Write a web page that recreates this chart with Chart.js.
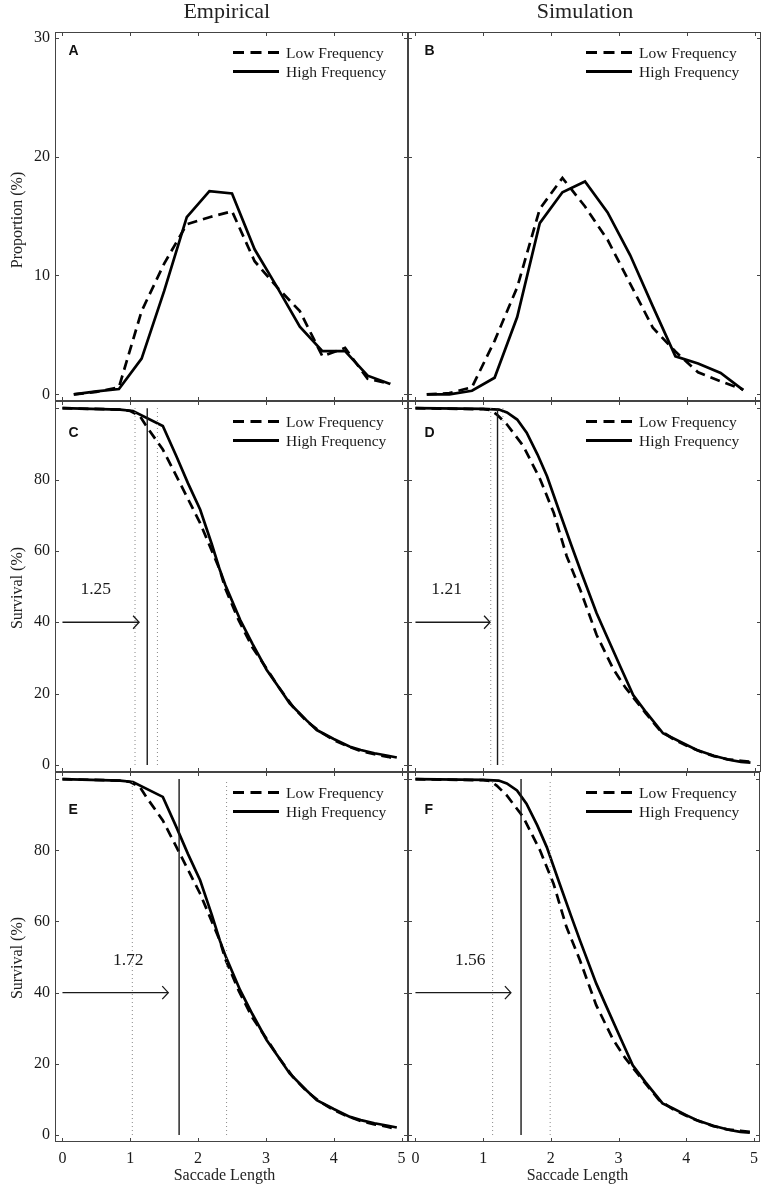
<!DOCTYPE html>
<html>
<head>
<meta charset="utf-8">
<script src="https://cdn.jsdelivr.net/npm/chart.js@4.4.1/dist/chart.umd.min.js"></script>
<style>
html,body{margin:0;padding:0;background:#fff;}
#wrap{position:relative;width:765px;height:1187px;overflow:hidden;background:#fff;}
#wrap canvas{position:absolute;left:0;top:0;}
.t{position:absolute;font-family:"Liberation Serif","Times New Roman",serif;color:#222;white-space:nowrap;line-height:1;}
</style>
</head>
<body>
<div id="wrap">
  <canvas id="pA" width="765" height="1187"></canvas>
  <canvas id="pB" width="765" height="1187"></canvas>
  <canvas id="pC" width="765" height="1187"></canvas>
  <canvas id="pD" width="765" height="1187"></canvas>
  <canvas id="pE" width="765" height="1187"></canvas>
  <canvas id="pF" width="765" height="1187"></canvas>
</div>
<script>
// ---------- tick labels ----------
const xTickValues = [0, 1, 2, 3, 4, 5];
const xTickLabels = ['0', '1', '2', '3', '4', '5'];
const propTickValues = [0, 10, 20, 30];
const propTickLabels = ['0', '10', '20', '30'];
const survTickValues = [0, 20, 40, 60, 80, 100];
const survTickLabels = ['0', '20', '40', '60', '80', ''];

// ---------- categories / text ----------
const columnTitles = ['Empirical', 'Simulation'];
const seriesNames = ['Low Frequency', 'High Frequency'];
const panelLetters = ['A', 'B', 'C', 'D', 'E', 'F'];
const xAxisTitle = 'Saccade Length';
const yAxisTitles = ['Proportion (%)', 'Survival (%)', 'Survival (%)'];

// ---------- proportion distributions (panels A, B) ----------
const propBins     = [0.167, 0.5, 0.833, 1.167, 1.5, 1.833, 2.167, 2.5, 2.833, 3.167, 3.5, 3.833, 4.167, 4.5, 4.833];
const empLowProp   = [0, 0.2, 0.6, 7.0, 11.0, 14.3, 14.9, 15.4, 11.2, 9.0, 7.0, 3.2, 3.9, 1.3, 0.9];
const empHighProp  = [0, 0.25, 0.45, 3.0, 8.7, 14.9, 17.1, 16.9, 12.2, 9.0, 5.7, 3.64, 3.64, 1.57, 0.87];
const simLowProp   = [0, 0.1, 0.6, 4.5, 9.0, 15.6, 18.2, 15.8, 13.0, 9.3, 5.6, 3.6, 1.85, 1.1, 0.4];
const simHighProp  = [0, 0, 0.3, 1.4, 6.5, 14.4, 17.0, 17.9, 15.3, 11.7, 7.4, 3.2, 2.6, 1.8, 0.36];

// ---------- survival curves (panels C-F) ----------
const empLowSurvX  = [0, 0.85, 1.0, 1.14, 1.25, 1.48, 1.73, 2.03, 2.32, 2.4, 2.6, 2.8, 3.0, 3.2, 3.4, 3.6, 3.8, 4.0, 4.2, 4.4, 4.6, 4.8, 4.93];
const empLowSurv   = [100, 99.6, 99.2, 97.8, 94.6, 88.4, 79.1, 67.8, 54.7, 49.5, 40.5, 33.0, 27.3, 21.5, 16.3, 12.3, 9.3, 7.0, 5.3, 3.9, 3.0, 2.3, 1.6];
const empHighSurvX = [0, 0.85, 1.04, 1.48, 1.68, 1.85, 2.03, 2.2, 2.32, 2.4, 2.62, 2.8, 3.01, 3.2, 3.35, 3.6, 3.75, 4.0, 4.24, 4.4, 4.6, 4.8, 4.93];
const empHighSurv  = [100, 99.6, 99.2, 95.0, 86.5, 79.0, 71.6, 62.0, 54.7, 50.5, 40.7, 34.0, 26.7, 21.5, 17.3, 12.5, 9.8, 7.3, 5.1, 4.2, 3.3, 2.6, 2.1];
const simLowSurvX  = [0, 1.0, 1.1, 1.2, 1.35, 1.59, 1.84, 2.04, 2.23, 2.43, 2.67, 2.92, 3.1, 3.2, 3.4, 3.6, 3.8, 4.0, 4.2, 4.4, 4.6, 4.8, 4.94];
const simLowSurv   = [100, 99.7, 99.5, 98.2, 95.4, 89.4, 80.0, 70.6, 58.5, 49.1, 36.5, 26.8, 21.6, 19.2, 14.4, 9.8, 7.3, 5.4, 3.8, 2.5, 1.6, 1.2, 0.9];
const simHighSurvX = [0, 1.0, 1.23, 1.35, 1.5, 1.64, 1.8, 1.94, 2.13, 2.3, 2.43, 2.67, 2.8, 3.02, 3.21, 3.4, 3.65, 3.8, 4.0, 4.15, 4.4, 4.64, 4.8, 4.94];
const simHighSurv  = [100, 99.8, 99.6, 98.8, 96.8, 93.1, 87.0, 80.9, 70.6, 61.5, 54.7, 42.6, 37.0, 27.6, 19.6, 14.8, 8.9, 7.5, 5.6, 4.2, 2.6, 1.4, 0.9, 0.65];

// ---------- divergence-point markers (panels C, D, E, F) ----------
const medianValues = [1.25, 1.21, 1.72, 1.56];
const medianLabels = ['1.25', '1.21', '1.72', '1.56'];
const dottedLower  = [1.07, 1.11, 1.03, 1.14];
const dottedUpper  = [1.40, 1.29, 2.42, 1.99];
const arrowEnds    = [1.13, 1.10, 1.56, 1.41];
const arrowLevel   = [40, 40, 40, 40];
const markerSpan   = [0, 100];

// ---------- layout (pixels) ----------
const W = 765, H = 1187;
const colX = [[55, 408], [408, 761]];
const rowY = [[32, 401], [401, 772], [772, 1142]];
const X_RANGE = [-0.11, 5.095];
const PROP_RANGE = [-0.56, 30.48];
const SURV_RANGE = [-1.96, 102.0];
const SERIF = '"Liberation Serif", "Times New Roman", serif';
const INK = '#1a1a1a';

function pts(xs, ys) { return xs.map((x, i) => ({ x: x, y: ys[i] })); }

const decoPlugin = {
  id: 'deco',
  afterDatasetsDraw(chart, args, o) {
    const ctx = chart.ctx, ca = chart.chartArea;
    const xs = chart.scales.x, ys = chart.scales.y;
    ctx.save();
    // frame
    ctx.strokeStyle = '#444';
    ctx.lineWidth = 1;
    ctx.setLineDash([]);
    const L = Math.round(ca.left) + 0.5, R = Math.round(ca.right) - 0.5;
    const T = Math.round(ca.top) + 0.5, B = Math.round(ca.bottom) - 0.5;
    ctx.strokeRect(L, T, R - L, B - T);
    // inward ticks on all four sides
    const tl = 3.5;
    ctx.beginPath();
    xTickValues.forEach(v => {
      const p = Math.round(xs.getPixelForValue(v)) + 0.5;
      ctx.moveTo(p, B); ctx.lineTo(p, B - tl);
      ctx.moveTo(p, T); ctx.lineTo(p, T + tl);
    });
    o.yTicks.forEach(v => {
      const p = Math.round(ys.getPixelForValue(v)) + 0.5;
      ctx.moveTo(L, p); ctx.lineTo(L + tl, p);
      ctx.moveTo(R, p); ctx.lineTo(R - tl, p);
    });
    ctx.stroke();

    // arrow head + value label
    if (o.marker !== undefined) {
      const i = o.marker;
      const ex = xs.getPixelForValue(arrowEnds[i]);
      const ey = ys.getPixelForValue(arrowLevel[i]);
      ctx.strokeStyle = INK;
      ctx.lineWidth = 1.3;
      ctx.beginPath();
      ctx.moveTo(ex - 6, ey - 6.5); ctx.lineTo(ex, ey); ctx.lineTo(ex - 6, ey + 6.5);
      ctx.stroke();
      ctx.fillStyle = INK;
      ctx.font = '17.5px ' + SERIF;
      ctx.textAlign = 'center';
      ctx.textBaseline = 'alphabetic';
      ctx.fillText(medianLabels[i], xs.getPixelForValue(o.labelX), ys.getPixelForValue(o.labelY));
    }

    // legend
    const lx0 = ca.left + 178, lx1 = ca.left + 224, tx = ca.left + 231;
    ctx.strokeStyle = '#000';
    ctx.lineWidth = 3;
    ctx.lineCap = 'butt';
    ctx.setLineDash([11, 6.5]);
    ctx.beginPath(); ctx.moveTo(lx0, ca.top + 20.5); ctx.lineTo(lx1, ca.top + 20.5); ctx.stroke();
    ctx.setLineDash([]);
    ctx.beginPath(); ctx.moveTo(lx0, ca.top + 39.5); ctx.lineTo(lx1, ca.top + 39.5); ctx.stroke();
    ctx.fillStyle = INK;
    ctx.font = '15.5px ' + SERIF;
    ctx.textAlign = 'left';
    ctx.textBaseline = 'alphabetic';
    ctx.fillText(seriesNames[0], tx, ca.top + 26);
    ctx.fillText(seriesNames[1], tx, ca.top + 45);

    // panel letter
    ctx.font = 'bold 14px "Liberation Sans", Arial, sans-serif';
    ctx.fillStyle = '#111';
    ctx.textAlign = 'left';
    ctx.fillText(o.letter, ca.left + o.letterDx, ca.top + o.letterDy);
    ctx.restore();
  }
};

function makePanel(id, col, row, cfg) {
  const [l, r] = colX[col], [t, b] = rowY[row];
  const yAxisW = col === 0 ? l : 0;
  const xAxisH = cfg.showX ? H - b : 0;
  const datasets = [];
  if (cfg.marker !== undefined) {
    const i = cfg.marker;
    const vline = (v, style) => Object.assign({
      data: [{ x: v, y: markerSpan[0] }, { x: v, y: markerSpan[1] }],
      showLine: true, pointRadius: 0, tension: 0, fill: false
    }, style);
    const dotted = { borderColor: '#888', borderWidth: 1, borderDash: [1, 3] };
    datasets.push(vline(dottedLower[i], dotted));
    datasets.push(vline(dottedUpper[i], dotted));
    datasets.push(vline(medianValues[i], { borderColor: INK, borderWidth: 1.4 }));
    datasets.push({
      data: [{ x: 0, y: arrowLevel[i] }, { x: arrowEnds[i], y: arrowLevel[i] }],
      showLine: true, pointRadius: 0, borderColor: INK, borderWidth: 1.3, fill: false
    });
  }
  datasets.push({ label: seriesNames[0], data: cfg.low, showLine: true, pointRadius: 0, tension: 0,
    borderColor: '#000', borderWidth: 2.7, borderDash: [10, 6], fill: false });
  datasets.push({ label: seriesNames[1], data: cfg.high, showLine: true, pointRadius: 0, tension: 0,
    borderColor: '#000', borderWidth: 2.7, fill: false });

  const tickFont = { family: SERIF, size: 16 };
  return new Chart(document.getElementById(id), {
    type: 'scatter',
    data: { datasets },
    options: {
      responsive: false,
      animation: false,
      devicePixelRatio: 1,
      layout: { padding: { left: l - yAxisW, right: W - r, top: t, bottom: H - b - xAxisH } },
      plugins: {
        legend: { display: false },
        tooltip: { enabled: false },
        deco: {
          yTicks: cfg.yTicks, letter: cfg.letter, letterDx: col === 0 ? 13.5 : 16.5,
          letterDy: cfg.letterDy, marker: cfg.marker, labelX: cfg.labelX, labelY: 47.8
        }
      },
      scales: {
        x: {
          type: 'linear', position: 'bottom', min: X_RANGE[0], max: X_RANGE[1],
          grid: { display: false, drawTicks: false }, border: { display: false },
          afterBuildTicks: s => { s.ticks = xTickValues.map(v => ({ value: v })); },
          afterFit: s => { s.height = xAxisH; },
          ticks: { display: cfg.showX, padding: 7, color: INK, font: tickFont, autoSkip: false, maxRotation: 0,
            callback: (v, i) => xTickLabels[i] }
        },
        y: {
          type: 'linear', position: 'left', min: cfg.yRange[0], max: cfg.yRange[1],
          grid: { display: false, drawTicks: false }, border: { display: false },
          afterBuildTicks: s => { s.ticks = cfg.yTicks.map(v => ({ value: v })); },
          afterFit: s => { s.width = yAxisW; },
          ticks: { display: col === 0, padding: 5, color: INK, font: tickFont, autoSkip: false,
            callback: (v, i) => cfg.yLabels[i] }
        }
      }
    },
    plugins: [decoPlugin]
  });
}

makePanel('pA', 0, 0, { low: pts(propBins, empLowProp), high: pts(propBins, empHighProp),
  yRange: PROP_RANGE, yTicks: propTickValues, yLabels: propTickLabels, letter: panelLetters[0], letterDy: 23, showX: false });
makePanel('pB', 1, 0, { low: pts(propBins, simLowProp), high: pts(propBins, simHighProp),
  yRange: PROP_RANGE, yTicks: propTickValues, yLabels: propTickLabels, letter: panelLetters[1], letterDy: 23, showX: false });
makePanel('pC', 0, 1, { low: pts(empLowSurvX, empLowSurv), high: pts(empHighSurvX, empHighSurv),
  yRange: SURV_RANGE, yTicks: survTickValues, yLabels: survTickLabels, letter: panelLetters[2], letterDy: 35.5, showX: false,
  marker: 0, labelX: 0.49 });
makePanel('pD', 1, 1, { low: pts(simLowSurvX, simLowSurv), high: pts(simHighSurvX, simHighSurv),
  yRange: SURV_RANGE, yTicks: survTickValues, yLabels: survTickLabels, letter: panelLetters[3], letterDy: 35.5, showX: false,
  marker: 1, labelX: 0.46 });
makePanel('pE', 0, 2, { low: pts(empLowSurvX, empLowSurv), high: pts(empHighSurvX, empHighSurv),
  yRange: SURV_RANGE, yTicks: survTickValues, yLabels: survTickLabels, letter: panelLetters[4], letterDy: 42, showX: true,
  marker: 2, labelX: 0.97 });
makePanel('pF', 1, 2, { low: pts(simLowSurvX, simLowSurv), high: pts(simHighSurvX, simHighSurv),
  yRange: SURV_RANGE, yTicks: survTickValues, yLabels: survTickLabels, letter: panelLetters[5], letterDy: 42, showX: true,
  marker: 3, labelX: 0.81 });

// ---------- HTML titles (real text) ----------
const wrap = document.getElementById('wrap');
function addText(txt, cx, baseline, size, rotate) {
  const d = document.createElement('div');
  d.className = 't';
  d.textContent = txt;
  d.style.fontSize = size + 'px';
  if (!rotate) {
    d.style.left = cx + 'px';
    d.style.top = (baseline - 0.8375 * size) + 'px';
    d.style.transform = 'translateX(-50%)';
  } else {
    // rotated -90deg: cx = baseline x position, baseline arg = vertical centre
    d.style.left = (cx - 0.3375 * size) + 'px';
    d.style.top = baseline + 'px';
    d.style.transform = 'translate(-50%, -50%) rotate(-90deg)';
  }
  wrap.appendChild(d);
}
addText(columnTitles[0], 226.8, 18.5, 22);
addText(columnTitles[1], 585, 18.5, 22);
addText(xAxisTitle, 224.5, 1180, 16);
addText(xAxisTitle, 577.5, 1180, 16);
addText(yAxisTitles[0], 22.5, 220, 16, true);
addText(yAxisTitles[1], 22.5, 587.5, 16, true);
addText(yAxisTitles[2], 22.5, 958, 16, true);
</script>
</body>
</html>
